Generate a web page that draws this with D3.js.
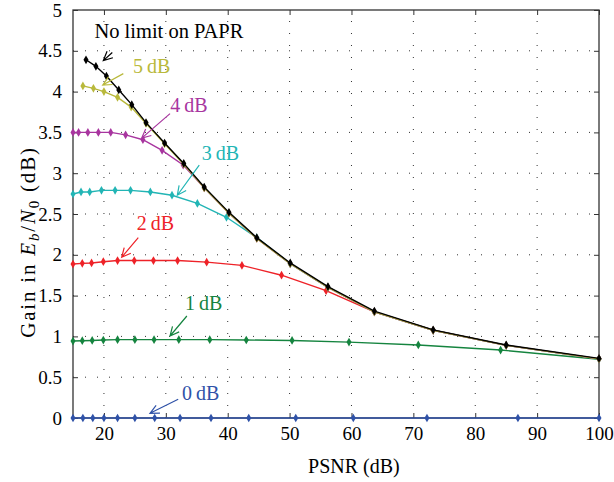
<!DOCTYPE html>
<html>
<head>
<meta charset="utf-8">
<script src="https://cdn.jsdelivr.net/npm/d3@7"></script>
<style>
  body { margin: 0; background: #fff; }
  svg text { font-family: "Liberation Serif", "DejaVu Serif", "Times New Roman", serif; }
</style>
</head>
<body>
<div id="chart"></div>
<script>
// PSNR (dB) vs gain in Eb/N0 (dB), one curve per PAPR limit
let xTicks = [20, 30, 40, 50, 60, 70, 80, 90, 100];
let yTicks = [0, 0.5, 1, 1.5, 2, 2.5, 3, 3.5, 4, 4.5, 5];

let psnrNoLimit = [17.1, 18.7, 20.4, 22.4, 24.5, 26.8, 29.8, 32.9, 36.2, 40.2, 44.7, 50.1, 56.2, 63.7, 73.2, 85.0, 100];
let gainNoLimit = [4.39, 4.31, 4.19, 4.02, 3.84, 3.62, 3.37, 3.12, 2.83, 2.52, 2.21, 1.90, 1.61, 1.31, 1.08, 0.895, 0.73];

let psnr5dB = [16.6, 18.3, 20.0, 22.2, 24.4, 26.8, 29.8, 32.9, 36.2, 40.2, 44.7, 50.1, 56.2, 63.7, 73.2, 85.0, 100];
let gain5dB = [4.07, 4.04, 4.00, 3.93, 3.81, 3.61, 3.36, 3.11, 2.82, 2.51, 2.20, 1.89, 1.60, 1.30, 1.075, 0.89, 0.725];

let psnr4dB = [15, 15.9, 17.4, 19.1, 21.1, 23.5, 26.3, 29.4, 32.8, 36.2, 40.2, 44.7, 50.1, 56.2, 63.7, 73.2, 85.0, 100];
let gain4dB = [3.50, 3.50, 3.50, 3.50, 3.50, 3.47, 3.41, 3.28, 3.10, 2.82, 2.51, 2.20, 1.89, 1.60, 1.30, 1.075, 0.89, 0.725];

let psnr3dB = [15, 16.3, 17.7, 19.6, 21.8, 24.3, 27.5, 31.0, 35.1, 39.8, 44.7, 50.1, 56.2, 63.7, 73.2, 85.0, 100];
let gain3dB = [2.745, 2.77, 2.77, 2.79, 2.79, 2.79, 2.77, 2.73, 2.63, 2.46, 2.21, 1.89, 1.60, 1.30, 1.075, 0.89, 0.725];

let psnr2dB = [15, 16.5, 18.0, 19.9, 22.2, 24.9, 28.0, 31.9, 36.6, 42.3, 48.7, 55.9, 63.7, 73.2, 85.0, 100];
let gain2dB = [1.887, 1.895, 1.90, 1.915, 1.93, 1.93, 1.93, 1.93, 1.91, 1.87, 1.75, 1.56, 1.30, 1.075, 0.89, 0.725];

let psnr1dB = [15, 16.5, 18.1, 19.9, 22.2, 25.0, 28.1, 32.1, 37.1, 43.0, 50.4, 59.6, 70.8, 84.1, 100];
let gain1dB = [0.943, 0.947, 0.95, 0.955, 0.96, 0.96, 0.96, 0.96, 0.96, 0.956, 0.95, 0.93, 0.895, 0.833, 0.72];

let psnr0dB = [15, 16.6, 18.2, 20, 22.2, 25.0, 28.2, 32.3, 37.3, 43.4, 51.0, 60.3, 72.2, 86.9, 100];
let gain0dB = [0, 0, 0, 0, 0, 0, 0, 0, 0, 0, 0, 0, 0, 0, 0];

let seriesNames = ["0 dB", "1 dB", "2 dB", "3 dB", "4 dB", "5 dB", "No limit on PAPR"];
let seriesColors = ["#2f52a8", "#15843f", "#ee2228", "#22b5b5", "#a8359f", "#b9b93c", "#000000"];
let seriesX = [psnr0dB, psnr1dB, psnr2dB, psnr3dB, psnr4dB, psnr5dB, psnrNoLimit];
let seriesY = [gain0dB, gain1dB, gain2dB, gain3dB, gain4dB, gain5dB, gainNoLimit];

// label position, arrow start and arrow tip, all in data units
let labelPos = [[32.6, 0.22], [33.1, 1.32], [25.3, 2.30], [35.8, 3.16], [30.7, 3.75], [24.7, 4.23], [30.5, 4.66]];
let arrowPos = [[32.0, 0.23], [33.4, 1.25], [25.55, 2.21], [35.4, 3.10], [30.68, 3.73], [23.13, 4.22], [21.35, 4.48]];
let arrowTip = [[27.44, 0.058], [30.68, 1.005], [22.87, 1.97], [31.86, 2.73], [26.1, 3.43], [19.8, 4.08], [19.9, 4.38]];

let width = 614, height = 482;
let margin = {left: 73, right: 15, top: 10, bottom: 64};

let svg = d3.select("#chart").append("svg")
    .attr("width", width)
    .attr("height", height);

let x = d3.scaleLinear().domain([15, 100]).range([margin.left, width - margin.right]);
let y = d3.scaleLinear().domain([0, 5]).range([height - margin.bottom, margin.top]);

// dotted grid
let grid = svg.append("g").attr("class", "grid");
grid.selectAll("line.v")
    .data(xTicks.slice(0, -1))
    .enter().append("line")
    .attr("x1", d => x(d)).attr("x2", d => x(d))
    .attr("y1", y(0)).attr("y2", y(5))
    .attr("stroke", "#333").attr("stroke-width", 1)
    .attr("stroke-dasharray", "1,11");
grid.selectAll("line.h")
    .data(yTicks.slice(1, -1))
    .enter().append("line")
    .attr("x1", x(15)).attr("x2", x(100))
    .attr("y1", d => y(d)).attr("y2", d => y(d))
    .attr("stroke", "#333").attr("stroke-width", 1)
    .attr("stroke-dasharray", "1,11");

// axes, ticks pointing inward on all four sides
let fmt = d => String(d);
svg.append("g")
    .attr("transform", "translate(0," + y(0) + ")")
    .call(d3.axisBottom(x).tickValues(xTicks).tickSizeInner(-5).tickSizeOuter(0).tickPadding(9).tickFormat(fmt))
    .call(g => g.select(".domain").remove());
svg.append("g")
    .attr("transform", "translate(0," + y(5) + ")")
    .call(d3.axisTop(x).tickValues(xTicks).tickSizeInner(-5).tickSizeOuter(0).tickFormat(""))
    .call(g => g.select(".domain").remove());
svg.append("g")
    .attr("transform", "translate(" + x(15) + ",0)")
    .call(d3.axisLeft(y).tickValues(yTicks).tickSizeInner(-5).tickSizeOuter(0).tickPadding(11).tickFormat(fmt))
    .call(g => g.select(".domain").remove());
svg.append("g")
    .attr("transform", "translate(" + x(100) + ",0)")
    .call(d3.axisRight(y).tickValues(yTicks).tickSizeInner(-5).tickSizeOuter(0).tickFormat(""))
    .call(g => g.select(".domain").remove());

svg.selectAll(".tick line").attr("stroke", "#333");
svg.selectAll(".tick text")
    .attr("fill", "#000")
    .style("font-size", "19px");

// frame
svg.append("rect")
    .attr("x", x(15)).attr("y", y(5))
    .attr("width", x(100) - x(15))
    .attr("height", y(0) - y(5))
    .attr("fill", "none")
    .attr("stroke", "#333")
    .attr("stroke-width", 1.3);

// curves
let line = d3.line().x(d => x(d[0])).y(d => y(d[1]));
let plot = svg.append("g");
let marker = d3.symbol().type(d3.symbolDiamond).size(22);

seriesNames.forEach(function (name, i) {
    let pts = seriesX[i].map((v, j) => [v, seriesY[i][j]]);
    let g = plot.append("g").attr("class", "series");
    g.append("path")
        .datum(pts)
        .attr("d", line)
        .attr("fill", "none")
        .attr("stroke", seriesColors[i])
        .attr("stroke-width", 1.4);
    g.selectAll("path.m")
        .data(pts)
        .enter().append("path")
        .attr("class", "m")
        .attr("transform", d => "translate(" + x(d[0]) + "," + y(d[1]) + ")")
        .attr("d", marker)
        .attr("fill", seriesColors[i]);
});

// annotations with open arrow heads
let ann = svg.append("g").attr("class", "annotations");
seriesNames.forEach(function (name, i) {
    let c = seriesColors[i];
    let isLast = i == seriesNames.length - 1;
    ann.append("text")
        .attr("x", x(labelPos[i][0]))
        .attr("y", y(labelPos[i][1]))
        .attr("text-anchor", isLast ? "middle" : "start")
        .attr("fill", c)
        .style("font-size", isLast ? "20.5px" : "20px")
        .text(name.replace(" ", isLast ? " " : "\u2009"));

    let x0 = x(arrowPos[i][0]), y0 = y(arrowPos[i][1]);
    let x1 = x(arrowTip[i][0]), y1 = y(arrowTip[i][1]);
    let a = Math.atan2(y1 - y0, x1 - x0);
    let len = 10, spread = 0.45;
    let p = "M" + x0 + "," + y0 + "L" + x1 + "," + y1 +
        "M" + (x1 - len * Math.cos(a - spread)) + "," + (y1 - len * Math.sin(a - spread)) +
        "L" + x1 + "," + y1 +
        "L" + (x1 - len * Math.cos(a + spread)) + "," + (y1 - len * Math.sin(a + spread));
    ann.append("path")
        .attr("d", p)
        .attr("fill", "none")
        .attr("stroke", c)
        .attr("stroke-width", 1.2);
});

// axis titles
svg.append("text")
    .attr("x", x(60.4))
    .attr("y", 473)
    .attr("text-anchor", "middle")
    .style("font-size", "20px")
    .text("PSNR (dB)");

let ylab = svg.append("text")
    .attr("transform", "translate(35," + 242 + ") rotate(-90)")
    .attr("text-anchor", "middle")
    .style("font-size", "21px")
    .style("letter-spacing", "1.8px");
ylab.append("tspan").text("Gain in ");
ylab.append("tspan").style("font-style", "italic").text("E");
ylab.append("tspan").style("font-style", "italic").style("font-size", "15px").attr("dy", 4).text("b");
ylab.append("tspan").attr("dy", -4).text("/");
ylab.append("tspan").style("font-style", "italic").text("N");
ylab.append("tspan").style("font-size", "15px").attr("dy", 4).text("0");
ylab.append("tspan").attr("dy", -4).text(" (dB)");
</script>
</body>
</html>
